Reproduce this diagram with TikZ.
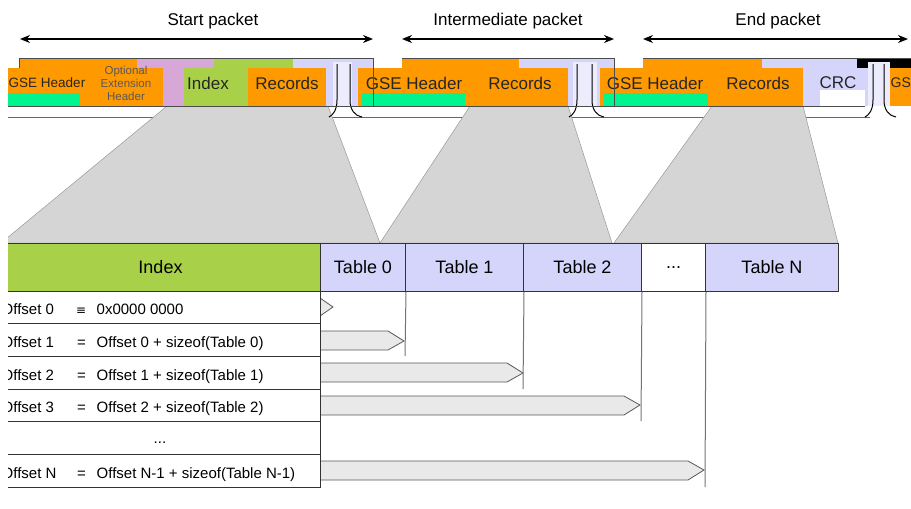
\documentclass[tikz,border=0pt]{standalone}
\usepackage{fontspec}
\setmainfont{Liberation Sans}
\newfontfamily\symfont{DejaVu Sans}
\usetikzlibrary{arrows.meta}
\definecolor{gorange}{HTML}{FF9900}
\definecolor{ggreen}{HTML}{A8D048}
\definecolor{glav}{HTML}{D5D5FB}
\definecolor{gpink}{HTML}{D7A7D7}
\definecolor{ggray}{HTML}{D5D5D5}
\definecolor{garrow}{HTML}{E9E9E9}
\definecolor{gglitch}{HTML}{00F58F}
\begin{document}
\begin{tikzpicture}[x=1pt,y=-1pt,
 font=\fontsize{15}{18}\selectfont,
 ttl/.style={font=\fontsize{17}{20}\selectfont, inner sep=0pt},
 span/.style={{Stealth[length=10pt,width=8pt]}-{Stealth[length=10pt,width=8pt]}, line width=1.6pt},
 band/.style={inner sep=0pt, anchor=north west, draw=none, minimum height=48pt},
 blk/.style={inner sep=0pt, anchor=north west, draw=none, minimum height=38pt},
 glitch/.style={inner sep=0pt, anchor=north west, draw=none, fill=gglitch, minimum height=13pt},
 stxt/.style={font=\fontsize{17}{20}\selectfont, text=black!85, inner sep=0pt},
 otxt/.style={font=\fontsize{11.5}{13}\selectfont, text=black!65, inner sep=0pt, align=center},
 frame/.style={draw=black!70, line width=0.9pt},
 funnel/.style={fill=ggray, draw=black!40, line width=0.5pt},
 hcell/.style={draw=black!80, line width=1pt, anchor=north west, inner sep=0pt, minimum height=48pt, font=\fontsize{18}{21}\selectfont},
 rowcell/.style={draw=black!80, line width=1pt, anchor=north west, inner sep=0pt, minimum width=320pt},
 rtxt/.style={anchor=base west, inner sep=0pt},
 ptr/.style={fill=garrow, draw=black!65, line width=0.8pt, line join=miter},
 guide/.style={draw=black!55, line width=1pt},
 brk/.style={draw=black, line width=1pt},
]
\useasboundingbox (0,0) rectangle (911,509);
\begin{scope}
\clip (8,0) rectangle (911,509);

% ---- titles and span arrows
\node[ttl] (tS) at (213,21) {Start packet};
\node[ttl] (tI) at (508,21) {Intermediate packet};
\node[ttl] (tE) at (778,21) {End packet};
\coordinate (sL) at (20,39); \coordinate (sR) at (373,39);
\coordinate (iL) at (402,39); \coordinate (iR) at (614,39);
\coordinate (eL) at (643,39); \coordinate (eR) at (908,39);
\draw[span] (sL) -- (sR);
\draw[span] (iL) -- (iR);
\draw[span] (eL) -- (eR);

% ---- shadow line under the strip
\coordinate (shL) at (8,117); \coordinate (shR) at (870,117);
\draw[black!60, line width=0.8pt] (shL) -- (shR);

% ---- funnels
\filldraw[funnel] (1,243) -- (167,106) -- (328,106) -- (380,243) -- cycle;
\filldraw[funnel] (380,243) -- (470,106) -- (568,106) -- (612,243) -- cycle;
\filldraw[funnel] (614,243) -- (712,106) -- (803,106) -- (838,243) -- cycle;

% ---- packet top bands
\node[band, fill=gorange, minimum width=118pt] (bS1) at (19,58) {};
\node[band, fill=gpink, minimum width=77pt] (bS2) at (137,58) {};
\node[band, fill=ggreen, minimum width=79pt] (bS3) at (214,58) {};
\node[band, fill=glav, minimum width=80pt] (bS4) at (293,58) {};
\node[band, fill=gorange, minimum width=117pt] (bI1) at (402,58) {};
\node[band, fill=glav, minimum width=95pt] (bI2) at (519,58) {};
\node[band, fill=gorange, minimum width=119pt] (bE1) at (643,58) {};
\node[band, fill=glav, minimum width=149pt] (bE2) at (762,58) {};
\node[band, fill=black, minimum width=54pt, minimum height=10pt] (bE3) at (857,58) {};

% ---- packet contents
\node[blk, fill=gorange, minimum width=85pt] (gseA) at (0,68) {};
\node[glitch, minimum width=80pt] (glA) at (0,93) {};
\node[stxt, font=\fontsize{13.5}{16}\selectfont] (gseAt) at (47,83) {GSE Header};
\node[blk, fill=gorange, minimum width=78pt] (optA) at (85,68) {};
\node[otxt] (optAt) at (126,83) {Optional\\Extension\\Header};
\node[blk, fill=ggreen, minimum width=62pt] (idxA) at (184,68) {};
\node[stxt] (idxAt) at (208,83) {Index};
\node[blk, fill=gorange, minimum width=78pt] (recA) at (248,68) {};
\node[stxt] (recAt) at (287,83) {Records};
\node[blk, fill=glav!45, minimum width=19pt, minimum height=44pt] (brA) at (333,62) {};
\draw[brk] (337,64) -- (337,100) .. controls (337,110) and (333,115) .. (329,117);
\draw[brk] (350,64) -- (350,100) .. controls (350,110) and (355,116) .. (362,117);

\node[blk, fill=gorange, minimum width=112pt] (gseB) at (358,68) {};
\node[glitch, minimum width=103pt] (glB) at (362,93) {};
\node[stxt] (gseBt) at (414,83) {GSE Header};
\node[blk, fill=gorange, minimum width=98pt] (recB) at (470,68) {};
\node[stxt] (recBt) at (520,83) {Records};
\node[blk, fill=glav!45, minimum width=24pt, minimum height=44pt] (brB) at (573,62) {};
\draw[brk] (577,64) -- (577,100) .. controls (577,110) and (573,115) .. (569,117);
\draw[brk] (592,64) -- (592,100) .. controls (592,110) and (597,116) .. (604,117);

\node[blk, fill=gorange, minimum width=112pt] (gseC) at (600,68) {};
\node[glitch, minimum width=104pt] (glC) at (604,93) {};
\node[stxt] (gseCt) at (655,83) {GSE Header};
\node[blk, fill=gorange, minimum width=91pt] (recC) at (712,68) {};
\node[stxt] (recCt) at (758,83) {Records};
\node[blk, fill=glav, minimum width=62pt] (crc) at (803,68) {};
\node[blk, fill=white, minimum width=45pt, minimum height=16pt] (crcW) at (820,90) {};
\node[stxt] (crct) at (838,83) {CRC};
\node[blk, fill=glav!45, minimum width=22pt, minimum height=44pt] (brC) at (868,62) {};
\draw[brk] (873,64) -- (873,100) .. controls (873,110) and (869,115) .. (865,117);
\draw[brk] (884,64) -- (884,100) .. controls (884,110) and (889,116) .. (896,117);
\node[blk, fill=gorange, minimum width=21pt] (gseD) at (890,68) {};
\node[stxt, anchor=west, font=\fontsize{14}{16}\selectfont] (gseDt) at (890.5,83) {GS};

% ---- packet frames
\draw[frame] (19,68) -- (19,58) -- (373,58) -- (373,106) -- (0,106);
\draw[frame] (402,58) -- (614,58) -- (614,106) -- (358,106);
\draw[frame] (643,58) -- (911,58);
\draw[frame] (600,106) -- (865,106);

% ---- offset pointers and guides
\coordinate (tip0) at (333,307);
\coordinate (tip1) at (404,341);
\coordinate (tip2) at (523,373);
\coordinate (tip3) at (640,405);
\coordinate (tipN) at (704,470);
\filldraw[ptr] (320,298) -- (tip0) -- (320,316);
\filldraw[ptr] (320,331) -- (388,331) -- (tip1) -- (388,350) -- (320,350);
\filldraw[ptr] (320,363) -- (507,363) -- (tip2) -- (507,382) -- (320,382);
\filldraw[ptr] (320,396) -- (624,396) -- (tip3) -- (624,415) -- (320,415);
\filldraw[ptr] (320,461) -- (688,461) -- (tipN) -- (688,480) -- (320,480);

% ---- header row
\node[hcell, fill=ggreen, minimum width=320pt] (hIdx) at (0,243) {Index};
\node[hcell, fill=glav, minimum width=85pt] (hT0) at (320,243) {Table 0};
\node[hcell, fill=glav, minimum width=118pt] (hT1) at (405,243) {Table 1};
\node[hcell, fill=glav, minimum width=118pt] (hT2) at (523,243) {Table 2};
\node[hcell, fill=white, minimum width=64pt] (hDots) at (641,243) {...};
\node[hcell, fill=glav, minimum width=133pt] (hTN) at (705,243) {Table N};

\draw[guide] (hT0.south east) -- (405,356);
\draw[guide] (hT1.south east) -- (523,389);
\draw[guide] (hT2.south east) -- (641,421);
\draw[guide] (hDots.south east) -- (705,487);

% ---- offset rows
\node[rowcell, minimum height=32pt] (r0) at (0,291) {};
\node[rowcell, minimum height=33pt] (r1) at (0,323) {};
\node[rowcell, minimum height=33pt] (r2) at (0,356) {};
\node[rowcell, minimum height=32pt] (r3) at (0,389) {};
\node[rowcell, minimum height=33pt] (r4) at (0,421) {};
\node[rowcell, minimum height=33pt] (r5) at (0,454) {};

\node[rtxt] (r0a) at (1.5,314.5) {Offset 0};
\node[rtxt] (r0b) at (76,314.5) {{\symfont\fontsize{12}{14}\selectfont ≡}};
\node[rtxt] (r0c) at (96.5,314.5) {0x0000 0000};
\node[rtxt] (r1a) at (1.5,347) {Offset 1};
\node[rtxt] (r1b) at (77,347) {=};
\node[rtxt] (r1c) at (96.5,347) {Offset 0 + sizeof(Table 0)};
\node[rtxt] (r2a) at (1.5,380) {Offset 2};
\node[rtxt] (r2b) at (77,380) {=};
\node[rtxt] (r2c) at (96.5,380) {Offset 1 + sizeof(Table 1)};
\node[rtxt] (r3a) at (1.5,412.5) {Offset 3};
\node[rtxt] (r3b) at (77,412.5) {=};
\node[rtxt] (r3c) at (96.5,412.5) {Offset 2 + sizeof(Table 2)};
\node[anchor=base, inner sep=0pt] (r4a) at (160,443.5) {...};
\node[rtxt] (r5a) at (1.5,478) {Offset N};
\node[rtxt] (r5b) at (77,478) {=};
\node[rtxt] (r5c) at (96.5,478) {Offset N-1 + sizeof(Table N-1)};
\end{scope}
\end{tikzpicture}
\end{document}
